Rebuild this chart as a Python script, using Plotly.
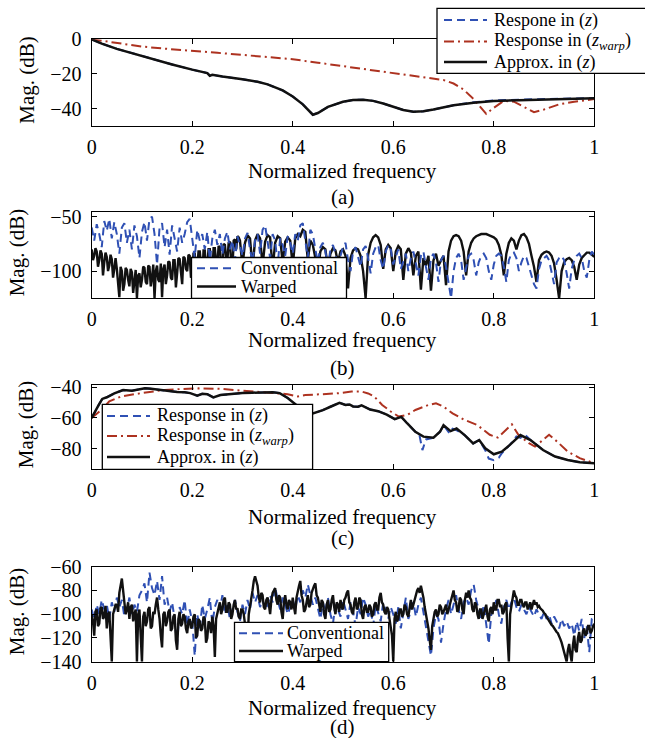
import numpy as np
import plotly.graph_objects as go

W, H = 645, 738
FONT = "Liberation Serif, Times New Roman, serif"
BLUE = "#2f50b4"
RED = "#ad3220"
BLACK = "#111111"

x_ticks = [0, 0.2, 0.4, 0.6, 0.8, 1.0]
x_tick_labels = ["0", "0.2", "0.4", "0.6", "0.8", "1"]

# ---------------- panel (a) ----------------
a_approx = [(0, 0), (0.02, -2.5), (0.05, -5.5), (0.08, -8), (0.1, -9.5), (0.13, -12),
            (0.16, -14.5), (0.2, -17.5), (0.22, -18.8), (0.23, -19.5), (0.235, -21),
            (0.24, -20.5), (0.26, -21.5), (0.28, -22.2), (0.3, -23), (0.33, -24.5),
            (0.35, -26), (0.38, -29.5), (0.4, -33), (0.42, -37.5), (0.43, -40.5),
            (0.44, -43.5), (0.45, -42.5), (0.47, -39), (0.5, -36), (0.52, -35),
            (0.54, -34.8), (0.56, -35.5), (0.58, -37), (0.6, -39), (0.62, -40.8),
            (0.64, -41.8), (0.66, -41.5), (0.68, -40.5), (0.7, -39.3), (0.72, -38),
            (0.76, -36.6), (0.8, -35.6), (0.85, -35.1), (0.9, -34.8), (0.95, -34.5), (1.0, -34)]
a_resp = [(0, 0), (0.02, -2.5), (0.05, -5.5), (0.08, -8), (0.1, -9.5), (0.13, -12),
          (0.16, -14.5), (0.2, -17.5), (0.22, -18.8), (0.23, -19.5), (0.235, -21),
          (0.24, -20.5), (0.26, -21.5), (0.28, -22.2), (0.3, -23), (0.33, -24.5),
          (0.35, -26), (0.38, -29.5), (0.4, -33), (0.42, -37.5), (0.43, -40.5),
          (0.44, -43.5), (0.45, -42.5), (0.47, -39), (0.5, -36), (0.52, -35),
          (0.54, -34.8), (0.56, -35.5), (0.58, -37), (0.6, -39), (0.62, -40.8),
          (0.64, -41.8), (0.66, -41.5), (0.68, -40.5), (0.7, -39.3), (0.72, -38),
          (0.76, -36.3), (0.8, -35.3), (0.85, -34.8), (0.9, -34.6), (0.95, -34.3), (1.0, -33.9)]
a_warp = [(0, 0), (0.05, -2.3), (0.1, -4.2), (0.15, -5.5), (0.2, -6.5), (0.25, -7.8),
          (0.3, -9), (0.35, -10.2), (0.4, -11.5), (0.45, -13.5), (0.5, -15.5),
          (0.55, -17.5), (0.6, -19.5), (0.65, -21.5), (0.68, -22.5), (0.7, -23.5),
          (0.72, -25.5), (0.74, -29), (0.76, -34.5), (0.775, -40), (0.785, -43),
          (0.8, -39.5), (0.82, -35.5), (0.84, -36), (0.86, -39), (0.88, -42),
          (0.9, -40.5), (0.93, -37.5), (0.96, -36), (1.0, -34.5)]

# ---------------- panel (b) ----------------
b_freq = np.linspace(0, 1, 201)
# warped response: finer sampling below 0.3 where it is densest
b_freq_warped = np.concatenate([np.linspace(0, 0.2975, 120), np.linspace(0.3, 1, 141)])
b_conventional = [
    -60, -72, -57, -66, -78, -54, -63, -52, -70, -55,
    -66, -84, -60, -56, -74, -62, -80, -58, -68, -88,
    -64, -55, -72, -52, -50, -66, -94, -60, -56, -78,
    -62, -85, -58, -70, -82, -60, -74, -66, -55, -52,
    -68, -88, -62, -72, -66, -80, -64, -90, -70, -62,
    -76, -66, -85, -70, -64, -80, -72, -90, -68, -76,
    -86, -70, -65, -80, -92, -72, -66, -84, -62, -58,
    -75, -88, -66, -72, -94, -70, -76, -86, -68, -74,
    -84, -66, -72, -58, -56, -70, -88, -62, -66, -80,
    -92, -78, -74, -82, -96, -80, -76, -84, -98, -86,
    -78, -74, -90, -100, -82, -78, -86, -96, -80, -77,
    -88, -102, -84, -78, -76, -90, -98, -82, -76, -80,
    -94, -86, -80, -98, -90, -84, -100, -88, -82, -92,
    -104, -86, -82, -96, -108, -88, -84, -92, -110, -90,
    -86, -96, -110, -125, -100, -88, -84, -90, -108, -96,
    -86, -84, -90, -104, -92, -86, -84, -88, -100, -108,
    -94, -86, -84, -86, -96, -110, -90, -84, -83, -88,
    -100, -92, -86, -88, -96, -104, -112, -116, -98, -90,
    -88, -86, -90, -100, -112, -92, -88, -86, -90, -102,
    -116, -98, -90, -86, -84, -88, -100, -106, -90, -82,
    -85]
b_warped = [
    # 0.000 - 0.2975 (step 0.0025)
    -80, -90, -86, -79, -82, -96, -90, -81, -84, -104, -92, -83, -87, -100, -95, -85, -89, -106, -98, -88,
    -98, -110, -124, -96, -100, -118, -112, -97, -99, -108, -114, -98, -101, -120, -110, -99, -125, -104, -102, -115,
    -108, -96, -97, -110, -112, -95, -96, -114, -106, -94, -125, -100, -95, -108, -110, -93, -124, -98, -94, -112,
    -104, -91, -92, -106, -108, -90, -90, -115, -102, -88, -89, -104, -112, -87, -88, -98, -100, -85, -86, -106,
    -104, -84, -84, -100, -97, -82, -82, -94, -108, -81, -81, -99, -95, -80, -80, -96, -102, -79, -79, -92,
    -94, -77, -78, -95, -100, -75, -76, -88, -90, -74, -73, -92, -98, -72, -71, -80, -68, -69, -72, -84,
    # 0.300 - 1.000 (step 0.005)
    -96, -74, -67, -70, -97, -72, -66, -70, -95, -73,
    -67, -69, -98, -74, -68, -70, -93, -73, -69, -72,
    -96, -70, -66, -68, -62, -64, -90, -72, -76, -88,
    -100, -82, -78, -80, -98, -84, -79, -81, -92, -82,
    -80, -86, -116, -88, -81, -79, -80, -86, -100, -125,
    -85, -74, -69, -67, -69, -76, -98, -80, -76, -79,
    -100, -82, -77, -80, -108, -84, -79, -83, -104, -86,
    -82, -117, -88, -95, -86, -118, -90, -84, -95, -90,
    -86, -113, -82, -72, -68, -67, -68, -72, -82, -104,
    -82, -74, -70, -68, -67, -66, -66, -66, -67, -68,
    -69, -71, -76, -85, -104, -84, -74, -70, -72, -80,
    -72, -67, -66, -69, -75, -86, -96, -110, -90, -85,
    -83, -82, -83, -86, -93, -108, -125, -100, -92, -89,
    -88, -90, -96, -108, -94, -88, -85, -83, -83, -85,
    -87]

# ---------------- panel (c) ----------------
c_approx = [(0, -60), (0.007, -55.5), (0.014, -51.5), (0.021, -47.6), (0.03, -46.5),
            (0.045, -44), (0.0625, -41.8), (0.08, -42.2), (0.095, -41.1), (0.106, -40.7),
            (0.118, -41), (0.13, -41.5), (0.145, -41.7), (0.16, -42.3), (0.17, -43),
            (0.185, -43.3), (0.196, -43.8), (0.21, -45.4), (0.22, -44.2), (0.23, -44.5),
            (0.242, -46.6), (0.256, -45), (0.27, -44.6), (0.285, -44), (0.3, -43.8),
            (0.32, -43.5), (0.341, -43.2), (0.36, -43.3), (0.374, -43.8), (0.39, -47),
            (0.41, -52.4), (0.425, -55.5), (0.44, -57), (0.46, -54.9), (0.475, -52.7),
            (0.493, -50.1), (0.505, -51.5), (0.513, -51.2), (0.52, -52.5), (0.53, -52.7),
            (0.537, -51.8), (0.554, -54.5), (0.57, -55.6), (0.587, -57.8), (0.603, -60.8),
            (0.616, -59.3), (0.628, -63.6), (0.644, -69), (0.66, -72.2), (0.68, -72.9),
            (0.693, -69), (0.70, -64.7), (0.714, -68.6), (0.726, -66.9), (0.742, -71.2),
            (0.759, -76.6), (0.771, -74.4), (0.783, -79.8), (0.8, -83.7), (0.816, -82),
            (0.832, -77.6), (0.853, -71.2), (0.873, -74.4), (0.898, -80.9), (0.922, -85.2),
            (0.947, -87.4), (0.971, -88.9), (1.0, -89.6)]
c_resp = [(0, -60), (0.007, -55.5), (0.014, -51.5), (0.021, -47.6), (0.03, -46.5),
          (0.045, -44), (0.0625, -41.8), (0.08, -42.2), (0.095, -41.1), (0.106, -40.7),
          (0.118, -41), (0.13, -41.5), (0.145, -41.7), (0.16, -42.3), (0.17, -43),
          (0.185, -43.3), (0.196, -43.8), (0.21, -45.4), (0.22, -44.2), (0.23, -44.5),
          (0.242, -46.6), (0.256, -45), (0.27, -44.6), (0.285, -44), (0.3, -43.8),
          (0.32, -43.5), (0.341, -43.2), (0.36, -43.3), (0.374, -43.8), (0.39, -47),
          (0.41, -52.4), (0.425, -55.5), (0.44, -57), (0.46, -54.9), (0.475, -52.7),
          (0.493, -50.1), (0.505, -51.5), (0.513, -51.2), (0.52, -52.5), (0.53, -52.7),
          (0.537, -51.8), (0.554, -54.5), (0.57, -55.6), (0.587, -57.8), (0.603, -60.8),
          (0.616, -59.3), (0.628, -63.6), (0.644, -69), (0.652, -71), (0.658, -81),
          (0.665, -74), (0.68, -72.9), (0.693, -69), (0.70, -64.7), (0.712, -70),
          (0.718, -67), (0.726, -68), (0.742, -71.2), (0.759, -76.6), (0.771, -74.4),
          (0.783, -81), (0.79, -86.5), (0.8, -87.5), (0.81, -86), (0.816, -83),
          (0.832, -77.6), (0.845, -72), (0.853, -73), (0.862, -71), (0.873, -74.4),
          (0.898, -80.9), (0.922, -85.2), (0.947, -87.4), (0.971, -88.9), (1.0, -89.6)]
c_warp = [(0, -60), (0.01, -57.5), (0.02, -54.6), (0.035, -49.2), (0.058, -46),
          (0.084, -44.5), (0.11, -43.2), (0.145, -41.7), (0.18, -41.1), (0.213, -40.7),
          (0.255, -41), (0.28, -41.7), (0.31, -42.4), (0.35, -43.2), (0.39, -44.5),
          (0.41, -46), (0.425, -45), (0.46, -44.5), (0.49, -43.9), (0.517, -42.8),
          (0.537, -42.8), (0.55, -44), (0.562, -46), (0.578, -51.5), (0.595, -55.8),
          (0.611, -59.1), (0.628, -58), (0.644, -54.8), (0.67, -51.5), (0.685, -50.5),
          (0.7, -52.6), (0.718, -57), (0.742, -61.3), (0.767, -64.6), (0.792, -71),
          (0.808, -72.8), (0.824, -67.8), (0.836, -64.2), (0.849, -71), (0.87, -76.5),
          (0.882, -78.7), (0.898, -74.3), (0.91, -71), (0.926, -75.4), (0.947, -81.9),
          (0.971, -86.2), (1.0, -89.6)]

# ---------------- panel (d) ----------------
d_freq = np.linspace(0, 1, 201)
d_freq_warped = np.linspace(0, 1, 401)
d_conventional = [
    -96, -104, -92, -100, -88, -96, -92, -104, -90, -98,
    -86, -94, -88, -102, -96, -86, -100, -92, -98, -84,
    -80, -74, -90, -65, -78, -84, -72, -88, -68, -92,
    -86, -98, -90, -104, -126, -94, -100, -88, -110, -96,
    -106, -135, -100, -112, -92, -104, -96, -86, -108, -94,
    -88, -96, -84, -100, -92, -104, -96, -88, -98, -106,
    -92, -100, -88, -96, -82, -90, -84, -94, -88, -96,
    -92, -84, -90, -77, -88, -96, -86, -92, -100, -94,
    -88, -96, -84, -90, -80, -86, -75, -84, -92, -86,
    -96, -104, -90, -98, -86, -100, -108, -92, -96, -102,
    -88, -96, -104, -90, -98, -110, -94, -100, -86, -92,
    -102, -96, -110, -92, -100, -106, -90, -98, -104, -94,
    -100, -108, -94, -112, -98, -86, -104, -96, -90, -102,
    -92, -86, -98, -110, -120, -135, -112, -100, -104, -124,
    -108, -96, -88, -100, -92, -84, -96, -104, -90, -86,
    -92, -80, -75, -88, -96, -104, -92, -110, -125, -100,
    -96, -88, -100, -108, -94, -88, -96, -90, -86, -94,
    -98, -92, -96, -100, -94, -98, -102, -96, -100, -104,
    -98, -104, -100, -108, -102, -106, -112, -104, -110, -106,
    -112, -108, -118, -106, -114, -104, -120, -110, -132, -104,
    -102]
d_warped = [
    -100, -106, -118, -98, -96, -110, -108, -95, -94, -104, -102, -93, -112, -100, -98, -120, -140, -100, -96, -92,
    -92, -98, -82, -76, -70, -80, -88, -100, -96, -90, -104, -94, -92, -106, -100, -96, -140, -100, -96, -118,
    -140, -102, -98, -110, -106, -96, -94, -112, -110, -98, -100, -92, -86, -96, -104, -118, -128, -100, -98, -110,
    -106, -98, -96, -114, -112, -102, -100, -122, -130, -104, -98, -110, -108, -100, -102, -112, -116, -106, -104, -112,
    -110, -102, -100, -120, -118, -104, -106, -114, -112, -102, -104, -124, -120, -106, -108, -116, -102, -110, -136, -104,
    -100, -94, -90, -100, -96, -88, -86, -98, -98, -90, -92, -104, -100, -92, -88, -96, -95, -102, -104, -96,
    -96, -100, -108, -120, -125, -100, -94, -86, -80, -72, -68, -72, -76, -86, -90, -82, -84, -94, -96, -88,
    -86, -92, -100, -88, -82, -80, -78, -88, -92, -84, -86, -98, -104, -90, -84, -92, -96, -88, -90, -96,
    -86, -94, -100, -86, -80, -76, -72, -84, -88, -98, -96, -88, -84, -94, -92, -82, -78, -76, -74, -84,
    -86, -94, -98, -88, -90, -100, -104, -92, -88, -98, -96, -88, -84, -94, -100, -90, -92, -98, -88, -94,
    -96, -88, -86, -82, -80, -90, -92, -98, -100, -90, -86, -96, -94, -86, -88, -100, -104, -94, -92, -98,
    -98, -92, -94, -102, -100, -92, -90, -96, -96, -86, -82, -90, -92, -98, -100, -94, -96, -104, -110, -118,
    -140, -104, -98, -106, -104, -96, -96, -102, -100, -92, -94, -100, -102, -94, -88, -96, -92, -86, -84, -80,
    -78, -82, -76, -80, -86, -94, -100, -108, -112, -122, -130, -110, -104, -98, -96, -102, -100, -92, -94, -100,
    -98, -94, -92, -100, -96, -90, -86, -82, -80, -88, -90, -98, -96, -86, -88, -96, -100, -88, -82, -86,
    -80, -86, -88, -96, -98, -90, -92, -100, -104, -96, -96, -104, -100, -94, -92, -102, -106, -96, -94, -100,
    -90, -96, -96, -88, -88, -94, -92, -100, -98, -92, -90, -120, -140, -100, -94, -86, -80, -84, -86, -92,
    -92, -88, -88, -92, -94, -90, -90, -96, -92, -90, -96, -92, -88, -92, -90, -94, -93, -95, -96, -97,
    -99, -100, -102, -104, -106, -107, -109, -110, -112, -113, -115, -116, -118, -121, -124, -128, -132, -136, -140, -130,
    -125, -134, -140, -126, -118, -130, -132, -120, -115, -124, -122, -114, -112, -118, -116, -110, -110, -116, -114, -110,
    -108]

y_ranges = {"a": [-50, 0], "b": [-125, -46], "c": [-93.5, -38.5], "d": [-140, -60]}
y_ticks = {"a": [-40, -20, 0], "b": [-100, -50], "c": [-80, -60, -40],
           "d": [-140, -120, -100, -80, -60]}


def unzip(pairs):
    return [p[0] for p in pairs], [p[1] for p in pairs]


def px(xp):
    return xp / W


def py(yp):
    return 1 - yp / H


fig = go.Figure()

dash_blue = "8px,5px"
dash_red = "10px,4px,2px,4px"

# (a)
x, y = unzip(a_resp)
fig.add_trace(go.Scatter(x=x, y=y, mode="lines", name="Respone in (z)",
                         line=dict(color=BLUE, width=2, dash=dash_blue), xaxis="x", yaxis="y"))
x, y = unzip(a_warp)
fig.add_trace(go.Scatter(x=x, y=y, mode="lines", name="Response in (z_warp)",
                         line=dict(color=RED, width=2, dash=dash_red), xaxis="x", yaxis="y"))
x, y = unzip(a_approx)
fig.add_trace(go.Scatter(x=x, y=y, mode="lines", name="Approx. in (z)",
                         line=dict(color=BLACK, width=2.5), xaxis="x", yaxis="y"))
# (b)
fig.add_trace(go.Scatter(x=b_freq_warped, y=b_warped, mode="lines", name="Warped",
                         line=dict(color=BLACK, width=2.4), xaxis="x2", yaxis="y2"))
fig.add_trace(go.Scatter(x=b_freq, y=b_conventional, mode="lines", name="Conventional",
                         line=dict(color=BLUE, width=2, dash=dash_blue), xaxis="x2", yaxis="y2"))
# (c)
x, y = unzip(c_resp)
fig.add_trace(go.Scatter(x=x, y=y, mode="lines", name="Response in (z)",
                         line=dict(color=BLUE, width=2, dash=dash_blue), xaxis="x3", yaxis="y3"))
x, y = unzip(c_warp)
fig.add_trace(go.Scatter(x=x, y=y, mode="lines", name="Response in (z_warp)",
                         line=dict(color=RED, width=2, dash=dash_red), xaxis="x3", yaxis="y3"))
x, y = unzip(c_approx)
fig.add_trace(go.Scatter(x=x, y=y, mode="lines", name="Approx. in (z)",
                         line=dict(color=BLACK, width=2.5), xaxis="x3", yaxis="y3"))
# (d)
fig.add_trace(go.Scatter(x=d_freq, y=d_conventional, mode="lines", name="Conventional",
                         line=dict(color=BLUE, width=2, dash=dash_blue), xaxis="x4", yaxis="y4"))
fig.add_trace(go.Scatter(x=d_freq_warped, y=d_warped, mode="lines", name="Warped",
                         line=dict(color=BLACK, width=2.4), xaxis="x4", yaxis="y4"))

# panel pixel boxes (top, bottom)
panels = {"a": (39.3, 126.0), "b": (212.3, 298.3), "c": (385.0, 469.3), "d": (566.7, 661.7)}
X0, X1 = 91.7, 594.3

axis_common = dict(showline=True, linecolor="black", linewidth=1.3, mirror="allticks",
                   ticks="inside", ticklen=5, tickwidth=1, tickcolor="black",
                   showgrid=False, zeroline=False,
                   tickfont=dict(family=FONT, size=20, color="black"))
layout = {}
for i, k in enumerate(["a", "b", "c", "d"]):
    sfx = "" if i == 0 else str(i + 1)
    top, bot = panels[k]
    layout["xaxis" + sfx] = dict(axis_common, domain=[px(X0), px(X1)], range=[0, 1],
                                 tickvals=x_ticks, ticktext=x_tick_labels,
                                 anchor="y" + sfx, ticklabelstandoff=3)
    layout["yaxis" + sfx] = dict(axis_common, domain=[py(bot), py(top)], range=y_ranges[k],
                                 tickvals=y_ticks[k], anchor="x" + sfx, ticklabelstandoff=5)

annotations = []
shapes = []


def text(xp, yp, s, size, angle=0, xanchor="center"):
    annotations.append(dict(x=px(xp), y=py(yp), xref="paper", yref="paper", text=s,
                            showarrow=False, textangle=angle, xanchor=xanchor, yanchor="middle",
                            borderpad=0, font=dict(family=FONT, size=size, color="black")))


# axis titles and sub-labels
nf_y = {"a": 171.0, "b": 340.3, "c": 516.7, "d": 707.5}
sub_y = {"a": 197.0, "b": 368.3, "c": 538.3, "d": 727.0}
mag_x = {"a": 27.0, "b": 17.0, "c": 26.0, "d": 17.0}
for k in ["a", "b", "c", "d"]:
    top, bot = panels[k]
    text(342.5, nf_y[k], "Normalized frequency", 21)
    text(342.5, sub_y[k], "(" + k + ")", 21)
    text(mag_x[k], (top + bot) / 2 - 3, "Mag. (dB)", 21, angle=-90)

# legends drawn as boxes with sample lines
Z = "<i>z</i>"
ZW = "<i>z</i><sub><i>warp</i></sub>"


def legend(box, rows):
    x0, y0, x1, y1 = box
    shapes.append(dict(type="rect", xref="paper", yref="paper", x0=px(x0), x1=px(x1),
                       y0=py(y1), y1=py(y0), line=dict(color="black", width=1.3),
                       fillcolor="white", layer="above"))
    for (ly, lx0, lx1, tx, color, dash, wdt, label) in rows:
        shapes.append(dict(type="line", xref="paper", yref="paper", x0=px(lx0), x1=px(lx1),
                           y0=py(ly), y1=py(ly), line=dict(color=color, width=wdt, dash=dash),
                           layer="above"))
        text(tx, ly, label, 18, xanchor="left")


legend((437, 8.3, 660, 73.3), [
    (20.0, 444, 487, 493, BLUE, dash_blue, 2, "Respone in (" + Z + ")"),
    (41.5, 444, 487, 493, RED, dash_red, 2, "Response in (" + ZW + ")"),
    (62.0, 444, 487, 493, BLACK, "solid", 2.4, "Approx. in (" + Z + ")"),
])
legend((191.5, 257.5, 346.5, 298.3), [
    (268.3, 197, 236, 240, BLUE, dash_blue, 2, "Conventional"),
    (286.5, 197, 236, 240, BLACK, "solid", 2.4, "Warped"),
])
legend((102.3, 404.3, 312.6, 469.3), [
    (416.0, 107, 150, 156, BLUE, dash_blue, 2, "Response in (" + Z + ")"),
    (436.0, 107, 150, 156, RED, dash_red, 2, "Response in (" + ZW + ")"),
    (457.0, 107, 150, 156, BLACK, "solid", 2.4, "Approx. in (" + Z + ")"),
])
legend((234.5, 622.3, 388.7, 661.7), [
    (633.3, 239, 283, 286, BLUE, dash_blue, 2, "Conventional"),
    (651.0, 239, 283, 286, BLACK, "solid", 2.4, "Warped"),
])

fig.update_layout(width=W, height=H, margin=dict(l=0, r=0, t=0, b=0, autoexpand=False),
                  paper_bgcolor="white", plot_bgcolor="white", showlegend=False,
                  font=dict(family=FONT, color="black"),
                  annotations=annotations, shapes=shapes, **layout)

fig.write_html("out.html", config={"displayModeBar": False},
               post_script="document.body.style.margin='0';document.body.style.overflow='hidden';")
